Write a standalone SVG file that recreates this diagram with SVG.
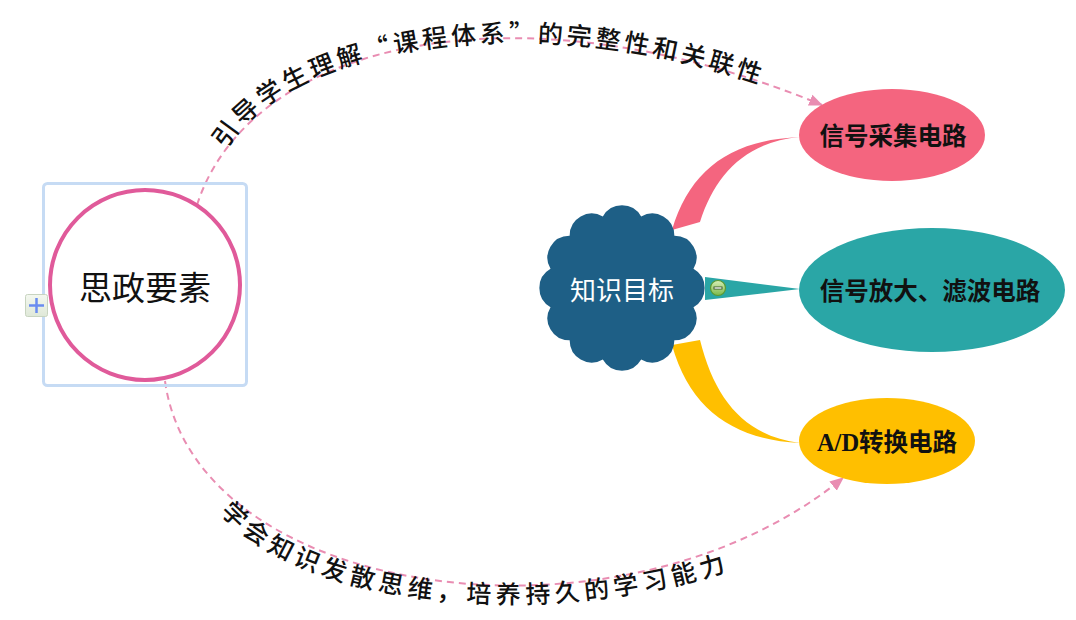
<svg xmlns="http://www.w3.org/2000/svg" width="1076" height="620" viewBox="0 0 1076 620">
<style>
.arc{fill:none;stroke:#e98db2;stroke-width:2;stroke-dasharray:7 5}
.lbl{font-family:"Noto Sans CJK SC","Noto Sans",sans-serif;font-size:25px;font-weight:500;fill:#111}
.nt{font-family:"Liberation Serif","Noto Sans CJK SC",serif;font-weight:bold;font-size:24.5px;fill:#111;text-anchor:middle;dominant-baseline:central}
</style>
<defs>
<marker id="ah2" viewBox="0 0 12 12" refX="11" refY="6" markerWidth="14" markerHeight="14" markerUnits="userSpaceOnUse" orient="auto">
<path d="M0,1 L12,6 L0,11 Z" fill="#e98db2"/>
</marker>
<linearGradient id="pg" x1="0" y1="0" x2="0" y2="1"><stop offset="0" stop-color="#f4f8f0"/><stop offset="1" stop-color="#dfe8d8"/></linearGradient>
<linearGradient id="mg" x1="0" y1="0" x2="0" y2="1"><stop offset="0" stop-color="#d8f0b8"/><stop offset="1" stop-color="#7ab84a"/></linearGradient>
<path id="tp" d="M226,150 C280,50 532,-5 792,96"/>
<path id="bp" d="M220,512 C306,612 560,630 742,566"/>
</defs>

<g id="connectors">
<path class="arc" d="M197,205 C250,40 520,-20 822,105" marker-end="url(#ah2)"/>
<path class="arc" d="M165,381 C195,600 620,660 843,478" marker-end="url(#ah2)"/>
<path d="M672,230 C690,170 730,140 800,137 C745,142 715,175 700,222 Z" fill="#f4657f"/>
<path d="M705,277 L800,289 L705,300 Z" fill="#2aa6a6"/>
<path d="M672,345 C690,410 735,440 800,443 C745,436 715,400 700,340 Z" fill="#ffbf00"/>
</g>

<g id="label-top">
<text class="lbl" letter-spacing="3.6"><textPath href="#tp">引导学生理解“课程体系”的完整性和关联性</textPath></text>
</g>
<g id="label-bottom">
<text class="lbl" font-size="26" letter-spacing="4.8"><textPath href="#bp">学会知识发散思维，培养持久的学习能力</textPath></text>
</g>

<g id="node-sizheng">
<rect x="43.5" y="183.5" width="203" height="202" rx="4" fill="none" stroke="#c6dbf4" stroke-width="3"/>
<circle cx="145" cy="285" r="95" fill="#fff" stroke="#e05a9a" stroke-width="4"/>
<text x="145" y="286" font-family="'Noto Sans CJK SC',sans-serif" font-size="33" fill="#111" text-anchor="middle" dominant-baseline="central">思政要素</text>
<rect x="25.5" y="294.5" width="22" height="22" rx="2" fill="url(#pg)" stroke="#c8d4c0" stroke-width="1"/>
<path d="M29,305.5 H44 M36.5,298 V313" stroke="#6a8cf0" stroke-width="2.5"/>
</g>

<g id="node-zhishi">
<path d="M641.15,216.52 A22,22 0 0 1 674.33,235.67 A22,22 0 0 1 693.48,268.85 A22,22 0 0 1 693.48,307.15 A22,22 0 0 1 674.33,340.33 A22,22 0 0 1 641.15,359.48 A22,22 0 0 1 602.85,359.48 A22,22 0 0 1 569.67,340.33 A22,22 0 0 1 550.52,307.15 A22,22 0 0 1 550.52,268.85 A22,22 0 0 1 569.67,235.67 A22,22 0 0 1 602.85,216.52 A22,22 0 0 1 641.15,216.52 Z" fill="#1e5f86"/>
<text x="622" y="288" font-family="'Noto Sans CJK SC',sans-serif" font-size="26" fill="#fff" text-anchor="middle" dominant-baseline="central">知识目标</text>
<circle cx="718" cy="288" r="7.5" fill="url(#mg)" stroke="#5a9a30" stroke-width="1.2"/>
<path d="M713.5,288 H722.5" stroke="#3a5a2a" stroke-width="3"/>
<path d="M714.5,288 H721.5" stroke="#f4f4f4" stroke-width="1.4"/>
</g>

<g id="node-caiji">
<ellipse cx="892" cy="135" rx="93" ry="46" fill="#f4657f"/>
<text class="nt" x="893" y="136">信号采集电路</text>
</g>
<g id="node-fangda">
<ellipse cx="932" cy="290" rx="133" ry="62" fill="#2aa6a6"/>
<text class="nt" x="930" y="291">信号放大、滤波电路</text>
</g>
<g id="node-ad">
<ellipse cx="887" cy="441" rx="88" ry="43" fill="#ffbf00"/>
<text class="nt" x="887" y="442">A/D转换电路</text>
</g>
</svg>
